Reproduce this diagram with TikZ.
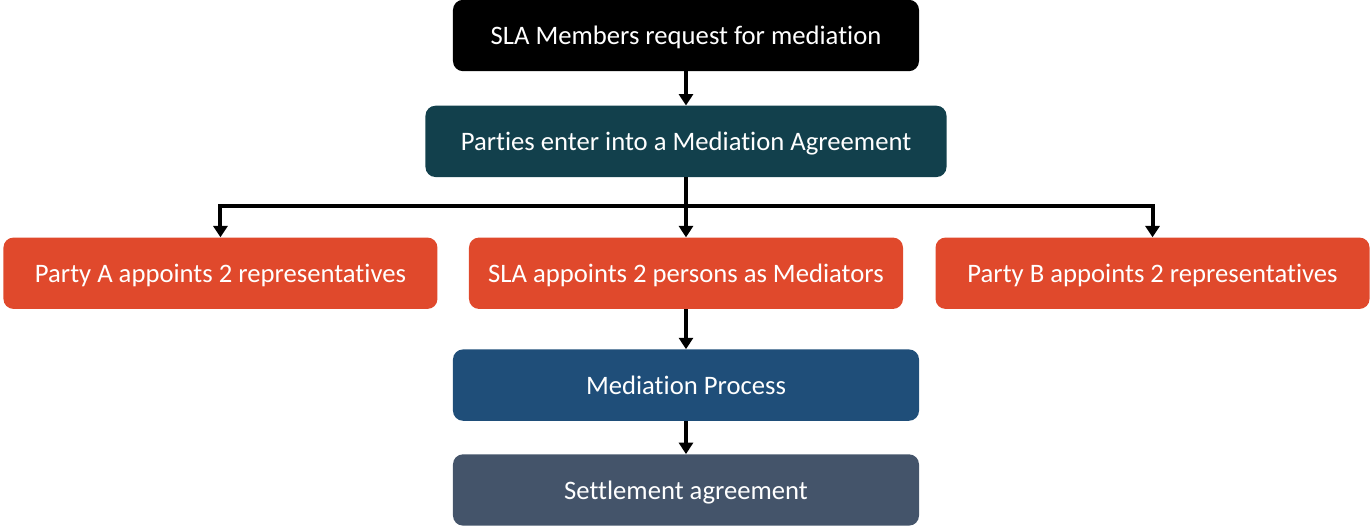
\documentclass[tikz,border=0pt]{standalone}
\usepackage{fontspec}
\setmainfont{Carlito}[Ligatures=NoCommon]
\usepackage{tikz}
\usetikzlibrary{arrows.meta,positioning,calc}
\definecolor{stepblack}{HTML}{000000}
\definecolor{stepteal}{HTML}{12404C}
\definecolor{steporange}{HTML}{E0492C}
\definecolor{stepblue}{HTML}{1F4E79}
\definecolor{stepslate}{HTML}{44546A}

\begin{document}
\begin{tikzpicture}[
            every node/.style={font=\fontsize{20}{24}\selectfont},
            box/.style={rectangle,rounded corners=7.5pt,text=white,minimum height=53.5pt,inner sep=0pt,text height=14pt,text depth=0pt},
            wide/.style={box,minimum width=349.5pt},
            party/.style={box,fill=steporange,minimum width=325.5pt},
            flow/.style={line width=3pt,-{Triangle[length=8.5pt,width=10.5pt]}}
        ]

        % Bounding box %
        \useasboundingbox (-514.5pt,26.625pt) rectangle (513.75pt,-367.875pt);

        % Draw steps %
        \node[wide,fill=stepblack] (request) at (0,0) {SLA Members request for mediation};
        \node[box,fill=stepteal,minimum width=390.75pt,below=25.5pt of request] (agree) {Parties enter into a Mediation Agreement};
        \node[party,below=45pt of agree] (sla) {SLA appoints 2 persons as Mediators};
        \node[party,left=23.25pt of sla] (partya) {Party A appoints 2 representatives};
        \node[party,right=24pt of sla] (partyb) {Party B appoints 2 representatives};
        \node[wide,fill=stepblue,below=30pt of sla] (process) {Mediation Process};
        \node[wide,fill=stepslate,below=24.75pt of process] (settle) {Settlement agreement};

        % Draw arrows %
        \coordinate (bus) at ($(agree.south)+(0,-21.75pt)$);
        \draw[flow] (request) -- (agree);
        \draw[flow] (agree) -- (sla);
        \draw[flow] (bus) -| (partya);
        \draw[flow] (bus) -| (partyb);
        \draw[flow] (sla) -- (process);
        \draw[flow] (process) -- (settle);
        \end{tikzpicture}
\end{document}
